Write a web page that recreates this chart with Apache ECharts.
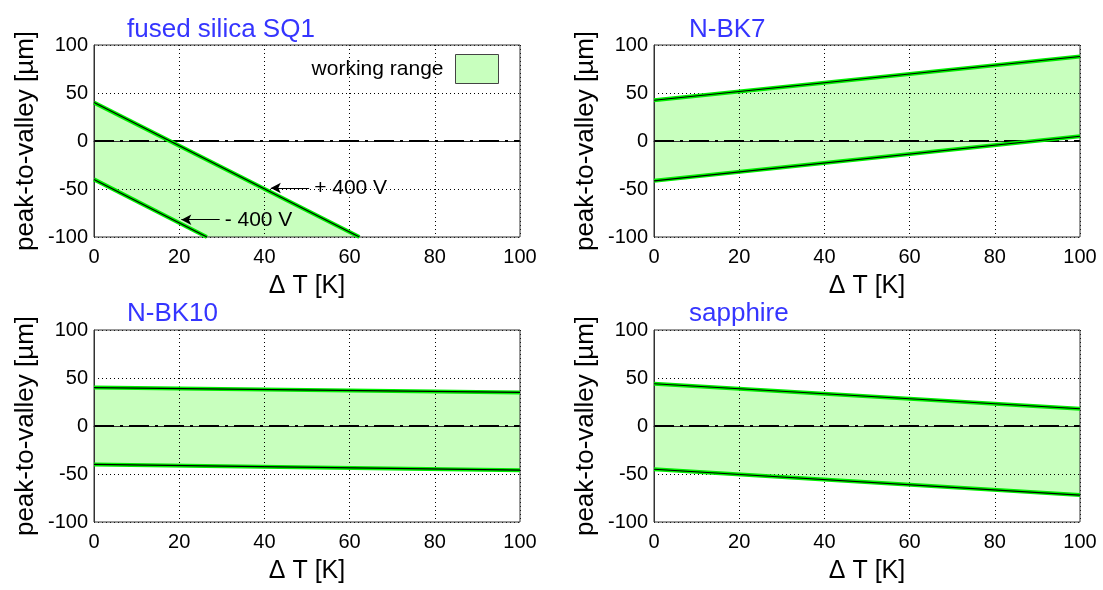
<!DOCTYPE html>
<html>
<head>
<meta charset="utf-8">
<style>
html,body{margin:0;padding:0;background:#fff;}
#chart{width:1103px;height:590px;}
</style>
<script src="https://cdn.jsdelivr.net/npm/echarts@6/dist/echarts.min.js"></script>
</head>
<body>
<div id="chart"></div>
<script>
// ---------- data ----------
const panelTitles = ['fused silica SQ1', 'N-BK7', 'N-BK10', 'sapphire'];
const xTicks = [0, 20, 40, 60, 80, 100];
const yTicks = [-100, -50, 0, 50, 100];

// upper (+400 V) and lower (-400 V) limits, [ΔT, peak-to-valley]
const sq1Upper = [[0, 40], [62.3, -100]];
const sq1Lower = [[0, -40], [26.5, -100]];
const bk7Upper = [[0, 42.5], [100, 88]];
const bk7Lower = [[0, -41.5], [100, 5]];
const bk10Upper = [[0, 40], [100, 35]];
const bk10Lower = [[0, -40], [100, -46]];
const sapphireUpper = [[0, 44], [100, 18]];
const sapphireLower = [[0, -45], [100, -72]];

const zeroLine = [[0, 0], [100, 0]];
const arrowPlus = [[50.5, -49], [41.5, -49]];
const arrowMinus = [[29.5, -82], [20.5, -82]];
const legendName = 'working range';

// ---------- layout ----------
const FONT = "'Liberation Sans', Arial, sans-serif";
const FILL = '#c8ffbe';
const GREEN = '#00f000';
const gridPos = [
  {left: 94, top: 45},
  {left: 654, top: 45},
  {left: 94, top: 330},
  {left: 654, top: 330}
];
const titlePos = [
  {left: 127, top: 17},
  {left: 689, top: 17},
  {left: 127, top: 301},
  {left: 689, top: 301}
];
const panels = [
  {upper: sq1Upper, lower: sq1Lower},
  {upper: bk7Upper, lower: bk7Lower},
  {upper: bk10Upper, lower: bk10Lower},
  {upper: sapphireUpper, lower: sapphireLower}
];

const grids = [], xAxes = [], yAxes = [], series = [], titles = [];
panels.forEach((p, i) => {
  grids.push({
    left: gridPos[i].left, top: gridPos[i].top, width: 426, height: 192,
    show: true, borderColor: '#333', borderWidth: 1, backgroundColor: 'transparent',
    containLabel: false, outerBoundsMode: 'none', z: 5
  });
  titles.push({
    text: panelTitles[i], left: titlePos[i].left, top: titlePos[i].top, padding: 0,
    textStyle: {color: '#3535ff', fontSize: 26, fontWeight: 'normal', fontFamily: FONT}
  });
  xAxes.push({
    type: 'value', gridIndex: i, min: xTicks[0], max: xTicks[xTicks.length - 1], interval: 20,
    name: 'Δ T [K]', nameLocation: 'middle', nameGap: 37,
    nameTextStyle: {fontSize: 25, color: '#000', fontFamily: FONT},
    axisLine: {show: true, lineStyle: {color: '#333', width: 1}},
    axisTick: {show: false},
    axisLabel: {fontSize: 20, color: '#000', fontFamily: FONT, margin: 10},
    splitLine: {show: true, lineStyle: {color: '#000', width: 1, type: [1, 3]}},
    z: 3
  });
  yAxes.push({
    type: 'value', gridIndex: i, min: yTicks[0], max: yTicks[yTicks.length - 1], interval: 50,
    name: 'peak-to-valley [µm]', nameLocation: 'middle', nameGap: 55,
    nameTextStyle: {fontSize: 26, color: '#000', fontFamily: FONT},
    axisLine: {show: true, lineStyle: {color: '#333', width: 1}},
    axisTick: {show: false},
    axisLabel: {fontSize: 20, color: '#000', fontFamily: FONT, margin: 6},
    splitLine: {show: true, lineStyle: {color: '#000', width: 1, type: [1, 3]}},
    z: 3
  });
  const poly = p.upper.concat(p.lower.slice().reverse());
  series.push({
    type: 'custom', name: i === 0 ? legendName : 'band' + i,
    xAxisIndex: i, yAxisIndex: i, z: 1, clip: true,
    itemStyle: {color: FILL, borderColor: '#444', borderWidth: 1},
    data: poly,
    renderItem: (params, api) => {
      if (params.dataIndex !== 0) return null;
      return {
        type: 'polygon',
        shape: {points: poly.map(pt => api.coord(pt))},
        style: {fill: FILL, stroke: null}
      };
    },
    silent: true
  });
  // dash-dot zero line
  series.push({
    type: 'line', xAxisIndex: i, yAxisIndex: i, data: zeroLine, z: 4,
    showSymbol: false, silent: true,
    lineStyle: {color: '#000', width: 2, type: [20, 6, 3, 6]}
  });
  [p.upper, p.lower].forEach(line => {
    series.push({
      type: 'line', xAxisIndex: i, yAxisIndex: i, data: line, z: 6,
      showSymbol: false, silent: true,
      lineStyle: {color: GREEN, width: 4}
    });
    series.push({
      type: 'line', xAxisIndex: i, yAxisIndex: i, data: line, z: 7,
      showSymbol: false, silent: true,
      lineStyle: {color: '#000', width: 1.1}
    });
  });
});

// annotation arrows in the first panel
[[arrowPlus, '+ 400 V'], [arrowMinus, '- 400 V']].forEach(([a, txt]) => {
  series.push({
    type: 'line', xAxisIndex: 0, yAxisIndex: 0, data: [], z: 8, silent: true,
    markLine: {
      silent: true, symbol: ['none', 'arrow'], symbolSize: [8, 10],
      lineStyle: {color: '#000', width: 1, type: 'solid'},
      label: {
        show: true, position: 'start', formatter: txt, color: '#000',
        fontSize: 21, fontFamily: FONT, distance: 5
      },
      data: [[{coord: a[0]}, {coord: a[1]}]]
    }
  });
});

const chart = echarts.init(document.getElementById('chart'), null, {renderer: 'canvas'});
chart.setOption({
  animation: false,
  backgroundColor: '#fff',
  textStyle: {fontFamily: FONT},
  title: titles,
  legend: {
    data: [{name: legendName, itemStyle: {color: FILL, borderColor: '#444', borderWidth: 1}}],
    right: 599, top: 49, align: 'right', icon: 'rect',
    itemWidth: 43, itemHeight: 29,
    textStyle: {fontSize: 21, color: '#000', fontFamily: FONT, padding: [0, 7, 0, 0]},
    selectedMode: false
  },
  grid: grids,
  xAxis: xAxes,
  yAxis: yAxes,
  series: series
});
</script>
</body>
</html>
